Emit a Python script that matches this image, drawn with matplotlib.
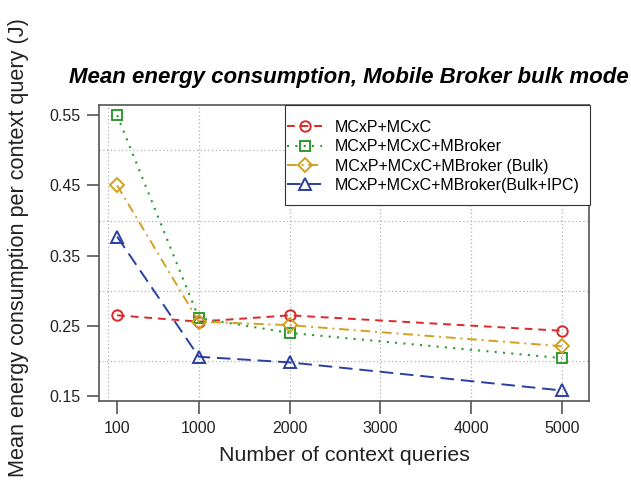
import matplotlib
matplotlib.use("Agg")
import matplotlib.pyplot as plt
from matplotlib.patches import Rectangle

plt.rcParams['font.family'] = ['Liberation Sans', 'DejaVu Sans']

queries = [100, 1000, 2000, 5000]
mcxp_mcxc = [0.265, 0.256, 0.265, 0.243]
mbroker = [0.550, 0.261, 0.240, 0.204]
mbroker_bulk = [0.450, 0.256, 0.251, 0.221]
mbroker_bulk_ipc = [0.377, 0.206, 0.198, 0.158]

labels = ["MCxP+MCxC", "MCxP+MCxC+MBroker", "MCxP+MCxC+MBroker (Bulk)",
          "MCxP+MCxC+MBroker(Bulk+IPC)"]
xticks = [100, 1000, 2000, 3000, 4000, 5000]
yticks = [0.15, 0.25, 0.35, 0.45, 0.55]

W, H = 631, 484
fig = plt.figure(figsize=(W / 100, H / 100), dpi=100)
ax = fig.add_axes([99 / W, 1 - 401 / H, 490 / W, 296 / H])

for gx in [0, 1000, 2000, 3000, 4000, 5000]:
    ax.axvline(gx, color='#b0b0b0', linestyle=(0, (1, 2)), linewidth=0.9, zorder=0)
for gy in [0.2, 0.3, 0.4, 0.5]:
    ax.axhline(gy, color='#b0b0b0', linestyle=(0, (1, 2)), linewidth=0.9, zorder=0)

ax.plot(queries, mcxp_mcxc, color='#DC2828', linestyle=(0, (4, 3)), lw=1.4,
        marker='o', markersize=7.5, markerfacecolor='none', markeredgewidth=1.4,
        label=labels[0])
ax.plot(queries, mbroker, color='#2E9A2E', linestyle=(0, (1, 3)), lw=1.5,
        marker='s', markersize=7, markerfacecolor='none', markeredgewidth=1.4,
        label=labels[1])
ax.plot(queries, mbroker_bulk, color='#D4A020', linestyle=(0, (5, 2.5, 1, 2.5)), lw=1.4,
        marker='D', markersize=7, markerfacecolor='none', markeredgewidth=1.4,
        label=labels[2])
ax.plot(queries, mbroker_bulk_ipc, color='#2B3FA0', linestyle=(0, (7, 3.5)), lw=1.4,
        marker='^', markersize=9, markerfacecolor='none', markeredgewidth=1.4,
        label=labels[3])

ax.set_xlim(-100, 5300)
ax.set_ylim(0.143, 0.5645)
ax.set_xticks(xticks)
ax.set_xticklabels([str(v) for v in xticks])
ax.set_yticks(yticks)
ax.set_yticklabels([f"{v:.2f}" for v in yticks])
ax.tick_params(axis='both', labelsize=11.5, length=9, width=1.2, color='#555555',
               labelcolor='#222222')
ax.tick_params(axis='y', pad=4.3)
ax.tick_params(axis='x', pad=5.5)
for s in ax.spines.values():
    s.set_linewidth(1.2)
    s.set_color('#555555')

ax.set_xlabel("Number of context queries", fontsize=15.4, color='#222222', labelpad=7)
ax.set_ylabel("Mean energy consumption per context query (J)", fontsize=15.6,
              color='#222222')
ax.yaxis.set_label_coords(-0.142, (401 - 248) / 296)
ax.set_title("Mean energy consumption, Mobile Broker bulk mode", fontsize=16,
             fontweight='bold', fontstyle='italic', pad=16, x=0.51)

# legend frame drawn as a separate box to match the reference padding
rect = Rectangle((285 / W, 1 - 205 / H), 305 / W, 100 / H, transform=fig.transFigure,
                 facecolor='white', edgecolor='#333333', linewidth=0.8,
                 clip_on=False, zorder=4)
ax.add_patch(rect)
leg = ax.legend(loc='upper left', bbox_to_anchor=(287 / W, 1 - 120 / H),
                bbox_transform=fig.transFigure, fontsize=11.5, frameon=False,
                handlelength=2.2, handletextpad=0.8, borderpad=0, borderaxespad=0,
                labelspacing=0.27)
leg.set_zorder(5)

fig.savefig("out.png", dpi=100)
